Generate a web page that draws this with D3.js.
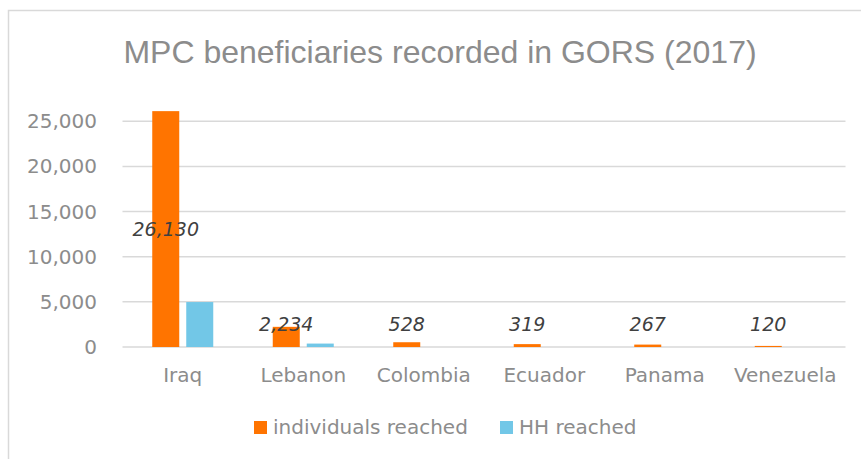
<!DOCTYPE html>
<html>
<head>
<meta charset="utf-8">
<script src="https://cdn.jsdelivr.net/npm/d3@7"></script>
<style>
  html, body { margin: 0; padding: 0; background: #ffffff; }
  svg { display: block; }
</style>
</head>
<body>
<svg id="chart" width="861" height="459"></svg>
<script>
const categories = ["Iraq", "Lebanon", "Colombia", "Ecuador", "Panama", "Venezuela"];
const seriesNames = ["individuals reached", "HH reached"];
const individualsReached = [26130, 2234, 528, 319, 267, 120];
const hhReached = [4980, 380, 0, 0, 0, 0];
const yTicks = [0, 5000, 10000, 15000, 20000, 25000];
const colors = ["#FF7400", "#72C7E7"];
const title = "MPC beneficiaries recorded in GORS (2017)";

const svg = d3.select("#chart");
const fontFam = "'DejaVu Sans', Verdana, sans-serif";

// outer border
svg.append("rect")
  .attr("x", 8.5).attr("y", 10.5).attr("width", 900).attr("height", 500)
  .attr("fill", "none").attr("stroke", "#d9d9d9").attr("stroke-width", 1.5);

// title
svg.append("text")
  .attr("x", 440).attr("y", 63)
  .attr("text-anchor", "middle")
  .attr("font-family", "'Liberation Sans', Arial, sans-serif")
  .attr("font-size", 32)
  .attr("fill", "#8c8c8c")
  .text(title);

const plotLeft = 122.5, plotRight = 845.5;
const x0 = d3.scaleBand().domain(categories).range([plotLeft, plotRight]).padding(0);
const x1 = d3.scaleBand().domain(seriesNames).range([0, x0.bandwidth()])
  .paddingInner(7 / 34).paddingOuter(0.875);
const y = d3.scaleLinear().domain([0, 30000]).range([347, 76.2]);

// gridlines
const grid = svg.append("g");
grid.selectAll("line").data(yTicks).join("line")
  .attr("x1", plotLeft).attr("x2", plotRight)
  .attr("y1", d => y(d)).attr("y2", d => y(d))
  .attr("stroke", "#d9d9d9").attr("stroke-width", 1.5);

// y axis labels
const yAxis = d3.axisLeft(y).tickValues(yTicks).tickSize(0).tickPadding(0)
  .tickFormat(d3.format(","));
const gy = svg.append("g").attr("transform", "translate(97,0)").call(yAxis);
gy.select(".domain").remove();
gy.selectAll("text")
  .attr("font-family", fontFam).attr("font-size", 20).attr("fill", "#8c8c8c");

// x axis labels
const xAxis = d3.axisBottom(x0).tickSize(0).tickPadding(0);
const gx = svg.append("g").attr("transform", "translate(0,367)").call(xAxis);
gx.select(".domain").remove();
gx.selectAll("text")
  .attr("font-family", fontFam).attr("font-size", 20).attr("fill", "#8c8c8c")
  .attr("dy", "0.75em");

// bars
const rows = categories.map((c, i) => ({
  cat: c,
  vals: [individualsReached[i], hhReached[i]]
}));
const groups = svg.append("g").selectAll("g").data(rows).join("g")
  .attr("transform", d => `translate(${x0(d.cat)},0)`);
groups.selectAll("rect")
  .data(d => d.vals.map((v, j) => ({ s: seriesNames[j], v, j })))
  .join("rect")
  .attr("x", d => x1(d.s))
  .attr("width", x1.bandwidth())
  .attr("y", d => y(d.v))
  .attr("height", d => y(0) - y(d.v))
  .attr("fill", d => colors[d.j]);

// data labels (individuals only)
svg.append("g").selectAll("text").data(rows).join("text")
  .attr("x", d => x0(d.cat) + x1(seriesNames[0]) + x1.bandwidth() / 2)
  .attr("y", d => d.vals[0] > 5000 ? y(d.vals[0] / 2) : y(2550))
  .attr("dy", "0.36em")
  .attr("text-anchor", "middle")
  .attr("font-family", fontFam).attr("font-size", 19)
  .attr("font-style", "italic")
  .attr("fill", "#404040")
  .text(d => d3.format(",")(d.vals[0]));

// legend
const legend = svg.append("g");
const legendItems = [
  { name: seriesNames[0], color: colors[0], x: 254 },
  { name: seriesNames[1], color: colors[1], x: 500 }
];
const li = legend.selectAll("g").data(legendItems).join("g")
  .attr("transform", d => `translate(${d.x},0)`);
li.append("rect").attr("x", 0).attr("y", 421).attr("width", 13).attr("height", 13)
  .attr("fill", d => d.color);
li.append("text").attr("x", 19).attr("y", 434)
  .attr("font-family", fontFam).attr("font-size", 20).attr("fill", "#8c8c8c")
  .text(d => d.name);
</script>
</body>
</html>
